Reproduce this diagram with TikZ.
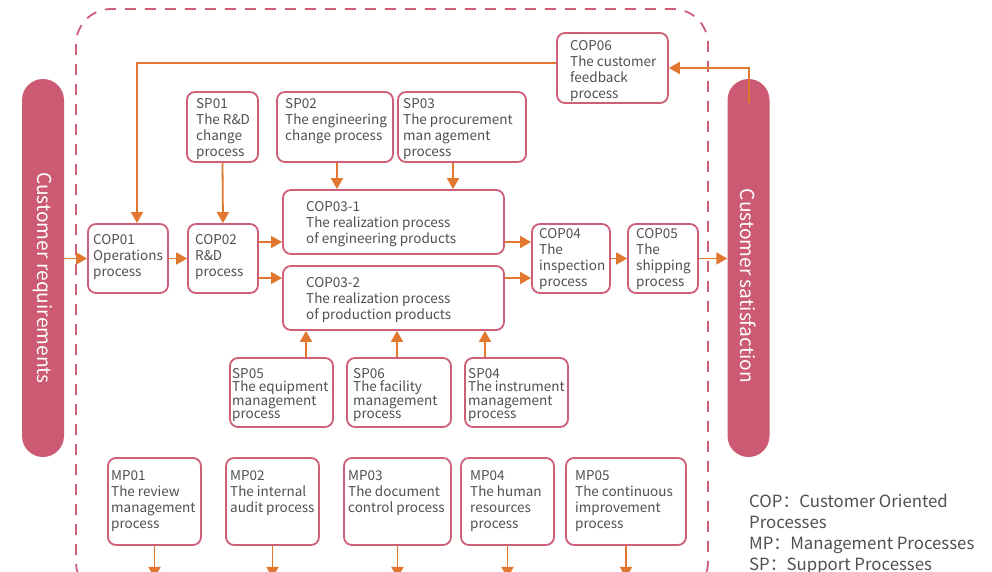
\documentclass[tikz,border=0pt]{standalone}
\usepackage{fontspec}
\setmainfont{Noto Sans CJK SC}
\usetikzlibrary{arrows.meta}

\definecolor{boxrose}{HTML}{CF5F78}
\definecolor{pillrose}{HTML}{CB5A72}
\definecolor{flow}{HTML}{E2772F}
\definecolor{ink}{HTML}{505050}

\tikzset{
  pbox/.style={draw=boxrose, line width=1.8pt, rounded corners=8pt, fill=white, inner sep=0pt},
  ptext/.style={inner sep=0pt, align=left, text=ink, font=\fontsize{13.5}{16}\selectfont},
  tighttext/.style={font=\fontsize{13.5}{13.5}\selectfont},
  flowarrow/.style={draw=flow, line width=1.8pt, -{Triangle[length=11pt,width=12pt]}},
  pill/.style={fill=pillrose, rounded corners=21pt, minimum width=42pt,
    minimum height=378pt, inner sep=0pt},
  pilltext/.style={rotate=-90, text=white, font=\fontsize{19.2}{22}\selectfont, inner sep=0pt},
  frameline/.style={draw=boxrose, line width=1.8pt, dash pattern=on 11pt off 9pt, rounded corners=35pt},
  legendtext/.style={inner sep=0pt, align=left, text=ink, font=\fontsize{16.8}{21}\selectfont},
}

% process box: [text style] name, x1, y1, x2, y2, text indent, first line centre, text
\newcommand\procbox[9][]{%
  \node[pbox, minimum width={(#5-#3)*1pt}, minimum height={(#6-#4)*1pt}] (#2) at ({(#3+#5)/2},{(#4+#6)/2}) {};
  \node[ptext, #1, anchor=north west] (#2-t) at ({#3+#7},{#8-4.95}) {#9};
}

\begin{document}
\begin{tikzpicture}[x=1pt, y=-1pt]
\useasboundingbox (0,0) rectangle (992,572);
\clip (0,0) rectangle (992,572);
\fill[white] (0,0) rectangle (992,572);

% dashed boundary of the organisation
\draw[frameline] (76,9) rectangle (708,597);

% customer side bars
\node[pill] (reqpill) at (43,268) {};
\node[pilltext] (reqpill-t) at (43,278) {Customer requirements};
\node[pill] (satpill) at (748.5,268) {};
\node[pilltext] (satpill-t) at (748.5,286) {Customer satisfaction};

% customer oriented processes
\procbox{cop01}{88}{224}{168}{293}{5}{239}{COP01\\Operations\\process}
\procbox{cop02}{188}{224}{258}{293}{7}{239}{COP02\\R\&D\\process}
\procbox{cop031}{283}{190}{504}{254}{23}{206}{COP03-1\\The realization process\\of engineering products}
\procbox{cop032}{283}{266}{504}{330}{23}{282}{COP03-2\\The realization process\\of production products}
\procbox{cop04}{532}{224}{610}{293}{7}{233}{COP04\\The\\inspection\\process}
\procbox{cop05}{628}{224}{698}{293}{8}{233}{COP05\\The\\shipping\\process}
\procbox{cop06}{557}{33}{668}{103}{13}{45}{COP06\\The customer\\feedback\\process}

% support processes
\procbox{sp01}{187}{92}{258}{162}{9}{103}{SP01\\The R\&D\\change\\process}
\procbox{sp02}{277}{92}{393}{162}{8}{103}{SP02\\The engineering\\change process}
\procbox{sp03}{398}{92}{526}{162}{5}{103}{SP03\\The procurement\\man agement\\process}
\procbox[tighttext]{sp05}{230}{358}{333}{427}{2}{373}{SP05\\The equipment\\management\\process}
\procbox[tighttext]{sp06}{347}{358}{451}{427}{6}{373}{SP06\\The facility\\management\\process}
\procbox[tighttext]{sp04}{465}{358}{568}{427}{3}{373}{SP04\\The instrument\\management\\process}

% management processes
\procbox{mp01}{108}{458}{201}{545}{3}{475}{MP01\\The review\\management\\process}
\procbox{mp02}{226}{458}{319}{545}{4}{475}{MP02\\The internal\\audit process}
\procbox{mp03}{344}{458}{451}{545}{4}{475}{MP03\\The document\\control process}
\procbox{mp04}{461}{458}{554}{545}{9}{475}{MP04\\The human\\resources\\process}
\procbox{mp05}{566}{458}{686}{545}{9}{475}{MP05\\The continuous\\improvement\\process}

% main flow
\draw[flowarrow] (reqpill.east |- cop01.west) -- (cop01.west);
\draw[flowarrow] (cop01.east) -- (cop02.west);
\draw[flowarrow] ([yshift=-20pt]cop031.west -| cop02.east) -- ([yshift=-20pt]cop031.west);
\draw[flowarrow] ([yshift=20pt]cop032.west -| cop02.east) -- ([yshift=20pt]cop032.west);
\draw[flowarrow] ([yshift=-20pt]cop031.east) -- ([yshift=-20pt]cop031.east -| cop04.west);
\draw[flowarrow] ([yshift=20pt]cop032.east) -- ([yshift=20pt]cop032.east -| cop04.west);
\draw[flowarrow] (cop04.east) -- (cop05.west);
\draw[flowarrow] (cop05.east) -- (cop05.east -| satpill.west);

% feedback loop
\coordinate (fbstart) at (749,103);
\draw[flowarrow] (fbstart) |- (cop06.east);
\draw[flowarrow] ([yshift=5pt]cop06.west) -| ([xshift=9pt]cop01.north);

% support inputs
\draw[flowarrow] (sp01.south) -- (cop02.north);
\draw[flowarrow] ([xshift=2pt]sp02.south) -- ([xshift=2pt]sp02.south |- cop031.north);
\draw[flowarrow] ([xshift=-9pt]sp03.south) -- ([xshift=-9pt]sp03.south |- cop031.north);
\draw[flowarrow] ([xshift=24.5pt]sp05.north) -- ([xshift=24.5pt]sp05.north |- cop032.south);
\draw[flowarrow] ([xshift=-2pt]sp06.north) -- ([xshift=-2pt]sp06.north |- cop032.south);
\draw[flowarrow] ([xshift=-31.5pt]sp04.north) -- ([xshift=-31.5pt]sp04.north |- cop032.south);

% management outputs
\foreach \m in {mp01,mp02,mp03,mp04,mp05}{
  \coordinate (\m-end) at ([yshift=-32pt]\m.south);
  \draw[flowarrow] (\m.south) -- (\m-end);
}

% legend
\node[legendtext, anchor=north west] (legend) at (749,493.8)
  {COP：Customer Oriented\\Processes\\MP：Management Processes\\SP：Support Processes};
\end{tikzpicture}
\end{document}
